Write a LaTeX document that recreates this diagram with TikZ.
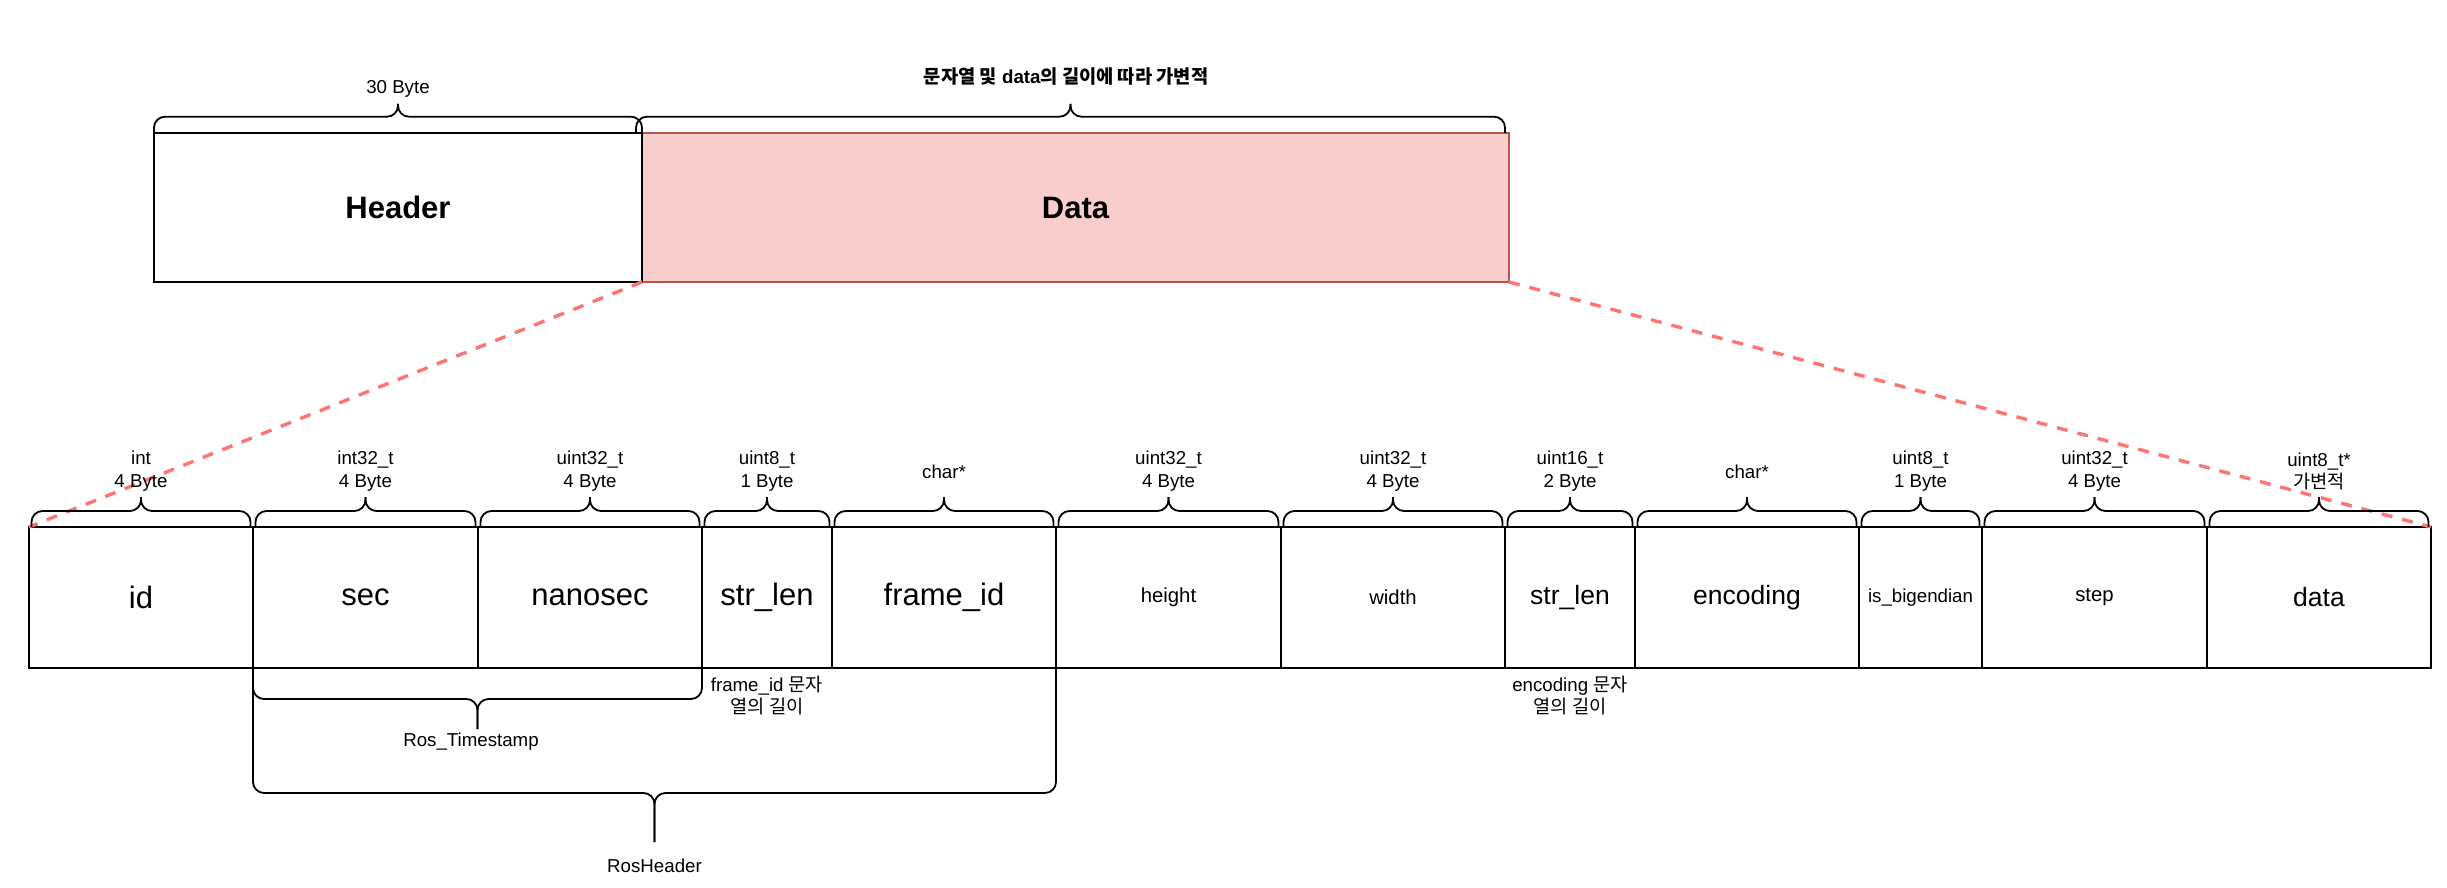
\documentclass[tikz,border=0pt]{standalone}
\usepackage{fontspec}
\setmainfont{Liberation Sans}
\newfontfamily\kr{Noto Sans CJK KR}
\newcommand\K[1]{{\kr #1}}
\definecolor{datafill}{HTML}{F8CECC}
\definecolor{datastroke}{HTML}{B85450}
\definecolor{zoomred}{HTML}{FF7373}
\tikzset{
  fieldbox/.style={draw=black, line width=2pt, inner sep=0pt, outer sep=0pt,
    anchor=north west, minimum height=141pt},
  topbox/.style={line width=2pt, inner sep=0pt, outer sep=0pt, anchor=north west,
    minimum height=149pt, font=\fontsize{31}{37}\selectfont\bfseries},
  bigtxt/.style={font=\fontsize{31}{37}\selectfont},
  midtxt/.style={font=\fontsize{26.5}{32}\selectfont},
  smalltxt/.style={font=\fontsize{20.3}{24}\selectfont},
  tinytxt/.style={font=\fontsize{18.7}{22.7}\selectfont},
  lbl/.style={align=center, inner sep=0pt, font=\fontsize{18.7}{22.7}\selectfont},
  bracestyle/.style={draw=black, line width=1.8pt, rounded corners=11pt},
  zoomline/.style={draw=zoomred, line width=3.4pt, dash pattern=on 11pt off 10pt}
}
% brace: x1, x2, y at box edge, y of bar, y of tip
\newcommand\mybrace[5]{%
  \draw[bracestyle] (#1,#3) -- (#1,#4) -- ({(#1+#2)/2},#4) -- ({(#1+#2)/2},#5);
  \draw[bracestyle] (#2,#3) -- (#2,#4) -- ({(#1+#2)/2},#4) -- ({(#1+#2)/2},#5);}
\begin{document}
\begin{tikzpicture}[x=1pt,y=-1pt]
\useasboundingbox (0,0) rectangle (2447,888);

% top level boxes
\node[topbox, draw=black, fill=white, minimum width=488pt] (header) at (154,133) {Header};
\node[topbox, draw=datastroke, fill=datafill, minimum width=867pt] (databox) at (642,133) {Data};
\draw[line width=2pt] (header.north east) -- (header.south east);

% top braces and labels
\mybrace{154}{642}{133}{116.7}{104}
\mybrace{636}{1505}{133}{116.7}{104}
\node[lbl] (lbl30) at (398,89) {30 Byte};
\node[lbl, font=\fontsize{18.7}{22.7}\selectfont\bfseries] (lblvar) at (1066,76) {\K{문자열 및} data\K{의 길이에 따라 가변적}};

% fields
\node[fieldbox, bigtxt, minimum width=224pt] (fid) at (29,527) {id};
\node[fieldbox, bigtxt, minimum width=225pt] (fsec) at (253,527) {sec};
\node[fieldbox, bigtxt, minimum width=224pt] (fnano) at (478,527) {nanosec};
\node[fieldbox, bigtxt, minimum width=130pt] (fstr) at (702,527) {str\_len};
\node[fieldbox, bigtxt, minimum width=224pt] (fframe) at (832,527) {frame\_id};
\node[fieldbox, smalltxt, minimum width=225pt] (fheight) at (1056,527) {height};
\node[fieldbox, smalltxt, minimum width=224pt] (fwidth) at (1281,527) {width};
\node[fieldbox, midtxt, minimum width=130pt] (fstrb) at (1505,527) {str\_len};
\node[fieldbox, midtxt, minimum width=224pt] (fenc) at (1635,527) {encoding};
\node[fieldbox, tinytxt, minimum width=123pt] (fbig) at (1859,527) {is\_bigendian};
\node[fieldbox, smalltxt, minimum width=225pt] (fstep) at (1982,527) {step};
\node[fieldbox, midtxt, minimum width=224pt] (fdata) at (2207,527) {data};

% zoom lines
\draw[zoomline] (header.south east) -- (fid.north west);
\draw[zoomline] (databox.south east) -- (fdata.north east);

% field braces
\foreach \a/\b in {29/253, 253/478, 478/702, 702/832, 832/1056,
  1056/1281, 1281/1505, 1505/1635, 1635/1859, 1859/1982,
  1982/2207, 2207/2431}{
  \mybrace{\a+2.5}{\b-2.5}{527}{511}{497}
}

% field type labels
\node[lbl] (tid) at (141,471.4) {int\\4 Byte};
\node[lbl] (tsec) at (365.5,471.4) {int32\_t\\4 Byte};
\node[lbl] (tnano) at (590,471.4) {uint32\_t\\4 Byte};
\node[lbl] (tstr) at (767,471.4) {uint8\_t\\1 Byte};
\node[lbl] (tframe) at (944,471.4) {char*};
\node[lbl] (theight) at (1168.5,471.4) {uint32\_t\\4 Byte};
\node[lbl] (twidth) at (1393,471.4) {uint32\_t\\4 Byte};
\node[lbl] (tstrb) at (1570,471.4) {uint16\_t\\2 Byte};
\node[lbl] (tenc) at (1747,471.4) {char*};
\node[lbl] (tbig) at (1920.5,471.4) {uint8\_t\\1 Byte};
\node[lbl] (tstep) at (2094.5,471.4) {uint32\_t\\4 Byte};
\node[lbl] (tdata) at (2319,471.4) {uint8\_t*\\\K{가변적}};

% lower notes
\node[lbl] (nstr) at (767,695.5) {frame\_id \K{문자}\\\K{열의 길이}};
\node[lbl] (nstrb) at (1570,695.5) {encoding \K{문자}\\\K{열의 길이}};

% group braces
\mybrace{253}{702}{668}{699}{729}
\node[lbl] (ts) at (471,742) {Ros\_Timestamp};
\mybrace{253}{1056}{668}{793}{842}
\node[lbl] (rh) at (654.5,866) {RosHeader};
\end{tikzpicture}
\end{document}
